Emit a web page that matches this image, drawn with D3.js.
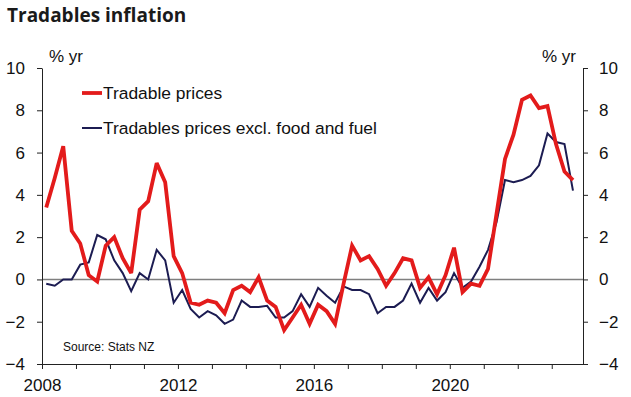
<!DOCTYPE html>
<html>
<head>
<meta charset="utf-8">
<script src="https://cdn.jsdelivr.net/npm/d3@7"></script>
<style>
  html, body { margin: 0; padding: 0; background: #fff; }
  svg { display: block; }
  text { font-family: "Liberation Sans", Arial, sans-serif; fill: #111; }
</style>
</head>
<body>
<svg id="chart" width="631" height="397"></svg>
<script>
// ---- Data ----
const title = "Tradables inflation";
const unitLabel = "% yr";
const sourceLabel = "Source: Stats NZ";
const seriesNames = ["Tradable prices", "Tradables prices excl. food and fuel"];
const quarters = [
  "2008Q1","2008Q2","2008Q3","2008Q4","2009Q1","2009Q2","2009Q3","2009Q4",
  "2010Q1","2010Q2","2010Q3","2010Q4","2011Q1","2011Q2","2011Q3","2011Q4",
  "2012Q1","2012Q2","2012Q3","2012Q4","2013Q1","2013Q2","2013Q3","2013Q4",
  "2014Q1","2014Q2","2014Q3","2014Q4","2015Q1","2015Q2","2015Q3","2015Q4",
  "2016Q1","2016Q2","2016Q3","2016Q4","2017Q1","2017Q2","2017Q3","2017Q4",
  "2018Q1","2018Q2","2018Q3","2018Q4","2019Q1","2019Q2","2019Q3","2019Q4",
  "2020Q1","2020Q2","2020Q3","2020Q4","2021Q1","2021Q2","2021Q3","2021Q4",
  "2022Q1","2022Q2","2022Q3","2022Q4","2023Q1","2023Q2","2023Q3"
];
const tradable = [
  3.4, 4.8, 6.3, 2.3, 1.7, 0.2, -0.1, 1.6, 2.0, 1.0, 0.3, 3.3, 3.7, 5.5, 4.6, 1.1,
  0.3, -1.1, -1.2, -1.0, -1.1, -1.6, -0.5, -0.3, -0.6, 0.1, -1.0, -1.3, -2.4, -1.8, -1.2, -2.1,
  -1.2, -1.5, -2.1, -0.2, 1.6, 0.9, 1.1, 0.5, -0.3, 0.3, 1.0, 0.9, -0.4, 0.1, -0.7, 0.2,
  1.5, -0.6, -0.2, -0.3, 0.5, 3.1, 5.7, 6.85, 8.5, 8.7, 8.1, 8.2, 6.4, 5.1, 4.7
];
const exFoodFuel = [
  -0.2, -0.3, 0.0, 0.0, 0.7, 0.8, 2.1, 1.9, 0.9, 0.3, -0.55, 0.3, 0.0, 1.4, 0.9, -1.1,
  -0.5, -1.4, -1.8, -1.5, -1.7, -2.1, -1.9, -1.0, -1.3, -1.3, -1.25, -1.8, -1.8, -1.5, -0.7, -1.3,
  -0.4, -0.77, -1.1, -0.33, -0.5, -0.5, -0.7, -1.6, -1.3, -1.3, -1.0, -0.2, -1.1, -0.4, -1.0, -0.6,
  0.3, -0.4, -0.1, 0.6, 1.4, 2.7, 4.7, 4.6, 4.7, 4.9, 5.4, 6.9, 6.5, 6.4, 4.2
];
const yTicks = [-4, -2, 0, 2, 4, 6, 8, 10];
const xTickYears = [2008, 2009, 2010, 2011, 2012, 2013, 2014, 2015, 2016, 2017, 2018, 2019, 2020, 2021, 2022, 2023];
const xLabelYears = [2008, 2012, 2016, 2020];
const colors = ["#e31b1b", "#1c1c52"];

// ---- Layout ----
const svg = d3.select("#chart");
const M = { left: 42, right: 583, top: 68, bottom: 364 };

const toYear = q => +q.slice(0, 4) + (+q.slice(5) - 1) / 4 + 0.125;

const x = d3.scaleLinear().domain([2008, 2023.92]).range([M.left, M.right]);
const y = d3.scaleLinear().domain([-4, 10]).range([M.bottom, M.top]);

// Title
svg.append("text").attr("x", 7).attr("y", 22)
  .style("font-family", "'Open Sans', 'Noto Sans', sans-serif")
  .style("font-weight", 700).style("font-size", "19px").style("fill", "#1a1a1a")
  .text(title);

// Zero line
svg.append("line")
  .attr("x1", M.left).attr("x2", M.right).attr("y1", y(0)).attr("y2", y(0))
  .attr("stroke", "#7f7f7f").attr("stroke-width", 1.6);

// Axes
function styleAxis(g) {
  g.select(".domain").attr("stroke", "#222").attr("stroke-width", 1);
  g.selectAll(".tick line").attr("stroke", "#222").attr("stroke-width", 1);
  g.selectAll(".tick text").style("font-size", "17px").style("font-family", "'Liberation Sans', Arial, sans-serif").attr("fill", "#111");
}
const yl = svg.append("g").attr("transform", `translate(${M.left},0)`)
  .call(d3.axisLeft(y).tickValues(yTicks).tickSize(5).tickPadding(12).tickSizeOuter(0));
styleAxis(yl);
const yr = svg.append("g").attr("transform", `translate(${M.right},0)`)
  .call(d3.axisRight(y).tickValues(yTicks).tickSize(5).tickPadding(11).tickSizeOuter(0));
styleAxis(yr);
const xa = svg.append("g").attr("transform", `translate(0,${M.bottom})`)
  .call(d3.axisBottom(x).tickValues(xTickYears).tickSize(5).tickPadding(10).tickSizeOuter(0)
    .tickFormat(d => xLabelYears.includes(d) ? String(d) : ""));
styleAxis(xa);

// Unit labels
svg.append("text").attr("x", 49).attr("y", 62).style("font-size", "17px").text(unitLabel);
svg.append("text").attr("x", 576).attr("y", 62).attr("text-anchor", "end").style("font-size", "17px").text(unitLabel);

// Source
svg.append("text").attr("x", 63).attr("y", 351).style("font-size", "12px").text(sourceLabel);

// Lines
const series = [
  { name: seriesNames[1], values: exFoodFuel, color: colors[1], width: 2 },
  { name: seriesNames[0], values: tradable, color: colors[0], width: 3.8 }
];
const line = d3.line().x(d => x(d[0])).y(d => y(d[1]));
series.forEach(s => {
  svg.append("path")
    .datum(quarters.map((q, i) => [toYear(q), s.values[i]]))
    .attr("d", line).attr("fill", "none")
    .attr("stroke", s.color).attr("stroke-width", s.width)
    .attr("stroke-linejoin", "miter").attr("stroke-miterlimit", 3);
});

// Legend
const legend = [
  { name: seriesNames[0], color: colors[0], width: 3.8, y: 93 },
  { name: seriesNames[1], color: colors[1], width: 2, y: 128 }
];
legend.forEach(l => {
  svg.append("line").attr("x1", 82).attr("x2", 102).attr("y1", l.y).attr("y2", l.y)
    .attr("stroke", l.color).attr("stroke-width", l.width);
  svg.append("text").attr("x", 103).attr("y", l.y + 6).style("font-size", "17.4px").text(l.name);
});
</script>
</body>
</html>
